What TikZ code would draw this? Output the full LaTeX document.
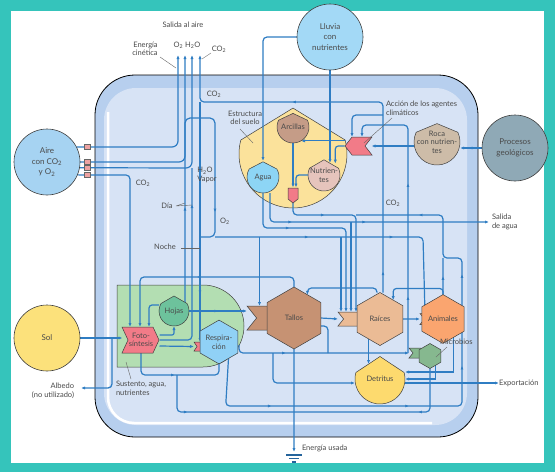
\documentclass[tikz,border=0pt]{standalone}
\usepackage{fontspec}
\setmainfont{Lato}
\usetikzlibrary{shapes.geometric,arrows.meta,decorations.markings}
\pgfdeclarelayer{fondo}
\pgfdeclarelayer{lineas}
\pgfsetlayers{fondo,lineas,main}

\definecolor{cMarco}{HTML}{35C4BB}
\definecolor{cBanda}{HTML}{B7CFEE}
\definecolor{cInterior}{HTML}{D7E3F5}
\definecolor{cFlujo}{HTML}{2F7DC3}
\definecolor{cVerde}{HTML}{B3DEB2}
\definecolor{cTierra}{HTML}{FBE29B}
\definecolor{cAire}{HTML}{A6D3F2}
\definecolor{cLluvia}{HTML}{A3D9F6}
\definecolor{cProc}{HTML}{8FA9B6}
\definecolor{cSol}{HTML}{FCE17B}
\definecolor{cArcilla}{HTML}{C59C87}
\definecolor{cAgua}{HTML}{8DD5F5}
\definecolor{cNutri}{HTML}{E6C4BC}
\definecolor{cRojo}{HTML}{F27B88}
\definecolor{cRoca}{HTML}{CDBCA8}
\definecolor{cHoja}{HTML}{6DC29C}
\definecolor{cResp}{HTML}{90D1F6}
\definecolor{cTallo}{HTML}{C69273}
\definecolor{cRaiz}{HTML}{EBBB95}
\definecolor{cAnimal}{HTML}{FAA56F}
\definecolor{cMicro}{HTML}{86B88F}
\definecolor{cDetrito}{HTML}{FDDA6E}
\definecolor{cRosa}{HTML}{EDA3A3}
\definecolor{cTexto}{HTML}{4A4A4A}

\newcommand{\bajo}[1]{\textsubscript{#1}}
% nombre, x, y, radio, angulo, pico, color, texto
\newcommand{\casa}[8]{%
  \draw[forma, fill=#7] (#2,#3) ++(-#5:#4) arc[start angle=-#5, end angle=180+#5, radius=#4] -- (#2,#3-#6*#4) -- cycle;
  \node[txt, circle, minimum size=#4*2pt] (#1) at (#2,#3) {#8};
}
% nombre, x, y, ancho, alto, color
\newcommand{\muesca}[6]{%
  \draw[forma, fill=#6] (#2,#3-#5/2) -- (#2+#4,#3-#5/2) -- (#2+#4,#3+#5/2) -- (#2,#3+#5/2) -- (#2+0.4*#5,#3) -- cycle;
  \node[caja, minimum width=#4pt, minimum height=#5pt] (#1) at (#2+#4/2,#3) {};
}

\tikzset{
  txt/.style={font=\fontsize{7.5}{8.6}\selectfont, text=cTexto, align=center, inner sep=0pt, outer sep=0pt},
  circ/.style={circle, draw=black!75, line width=0.6pt, minimum size=66pt, inner sep=0pt, outer sep=0pt,
    font=\fontsize{8}{10.5}\selectfont, text=cTexto, align=center},
  forma/.style={draw=black!75, line width=0.5pt},
  caja/.style={inner sep=0pt, outer sep=0pt},
  hexa/.style={regular polygon, regular polygon sides=6, shape border rotate=30, forma, txt},
  flujo/.style={cFlujo, line width=1.2pt},
  guia/.style={draw=black!60, line width=0.4pt},
  midarr/.style={postaction={decorate, decoration={markings,
    mark=at position #1 with {\arrow{Latex[length=3.5pt,width=3pt]}}}}},
}

\begin{document}
\begin{tikzpicture}[x=1pt, y=-1pt, >={Latex[length=4pt,width=3.2pt]}]
\useasboundingbox (0,0) rectangle (555,472);

% fondo
\begin{pgfonlayer}{fondo}
  \fill[cMarco] (0,0) rectangle (555,472);
  \fill[white] (11,11) rectangle (544,463);
  \draw[line width=0.8pt, fill=cBanda, rounded corners=40pt] (95,75) rectangle (478,437);
  \fill[cInterior, rounded corners=32pt] (104,88) rectangle (467,425);
  \draw[white, line width=2.5pt, rounded corners=26pt] (108,112) -- (108,423) -- (432,423);
  \draw[forma, fill=cVerde] (117,285) -- (203,285) arc[start angle=-90, end angle=90, radius=41] -- (117,367) -- cycle;
  \casa{suelo}{293}{154}{54}{15}{0.85}{cTierra}{}
\end{pgfonlayer}

% depositos
\casa{arcillas}{293}{127}{16}{25}{0.85}{cArcilla}{Arcillas}
\casa{agua}{263}{177}{16}{30}{0.95}{cAgua}{Agua}
\casa{nutri}{324}{175}{16}{25}{0.95}{cNutri}{Nutrien-\\tes}
\casa{roca}{437}{142}{23}{25}{0.8}{cRoca}{Roca\\con nutrien-\\tes}
\casa{hojas}{174}{311}{15}{30}{1}{cHoja}{Hojas}
\casa{detritus}{380}{379}{25}{15}{0.9}{cDetrito}{Detritus}

% consumidores
\muesca{tgate}{247}{318}{25}{24}{cTallo}
\node[hexa, fill=cTallo, minimum size=62pt] (tallos) at (294,318) {Tallos};
\muesca{rgate}{338}{319}{22}{14}{cRaiz}
\node[hexa, fill=cRaiz, minimum size=53pt] (raices) at (380,319) {Raíces};
\muesca{agate}{420}{319}{10}{11}{cAnimal}
\node[hexa, fill=cAnimal, minimum size=33pt] (animales) at (443,319) {Animales};
\muesca{mgate}{409}{353}{12}{10}{cMicro}
\node[hexa, fill=cMicro, minimum size=25pt] (microbios) at (430,356) {};
\draw[forma, fill=cRojo] (194,342) -- (206,342) -- (206,351) -- (194,351) -- (197,346.5) -- cycle;
\node[caja, minimum width=12pt, minimum height=9pt] (respin) at (200,346.5) {};
\node[hexa, fill=cResp, minimum size=31pt] (resp) at (219,342) {Respira-\\ción};

% compuertas
\draw[forma, fill=cRojo] (122,327) -- (153,327) -- (159,340) -- (153,353) -- (122,353) -- (128,340) -- cycle;
\node[txt, minimum width=37pt, minimum height=26pt] (foto) at (141,340) {Foto-\\síntesis};
\draw[forma, fill=cRojo] (352,137) -- (372,137) -- (365,146) -- (372,155) -- (352,155) -- (345,146) -- cycle;
\node[caja, minimum width=27pt, minimum height=18pt] (accion) at (358,146) {};
\draw[forma, fill=cRojo] (288,188) -- (298,188) -- (298,199) -- (293,203) -- (288,199) -- cycle;
\node[caja, minimum width=10pt, minimum height=15pt] (bomba) at (293,195) {};

% fuentes
\node[circ, fill=cAire] (aire) at (47,162) {Aire\\con CO\bajo{2}\\y O\bajo{2}};
\node[circ, fill=cLluvia] (lluvia) at (330,37) {Lluvia\\con\\nutrientes};
\node[circ, fill=cProc] (procesos) at (515,148) {Procesos\\geológicos};
\node[circ, fill=cSol] (sol) at (47,338) {Sol};

% textos
\node[txt] (salidaaire) at (183,25) {Salida al aire};
\node[txt, align=right] (energia) at (145,49) {Energía\\cinética};
\node[txt] (o2h2o) at (187,45) {O\bajo{2} H\bajo{2}O};
\node[txt] (co2a) at (219,49) {CO\bajo{2}};
\node[txt] (co2b) at (214,94) {CO\bajo{2}};
\node[txt] (estructura) at (245,118) {Estructura\\del suelo};
\node[txt, anchor=west, align=left] (accionlbl) at (386,108) {Acción de los agentes\\climáticos};
\node[txt] (co2c) at (393,203) {CO\bajo{2}};
\node[txt, anchor=west, align=left] (salidaagua) at (492,222) {Salida\\de agua};
\node[txt, align=left] (vapor) at (207,175) {H\bajo{2}O\\Vapor};
\node[txt] (co2d) at (143,183) {CO\bajo{2}};
\node[txt] (dia) at (167,206) {Día};
\node[txt] (o2b) at (225,221) {O\bajo{2}};
\node[txt] (noche) at (165,247) {Noche};
\node[txt, anchor=north west, align=left] (sustento) at (116,381) {Sustento, agua,\\nutrientes};
\node[txt, anchor=north east, align=right] (albedo) at (74,383) {Albedo\\(no utilizado)};
\node[txt, anchor=west] (microlbl) at (440,342) {Microbios};
\node[txt, anchor=west] (exportlbl) at (499,383) {Exportación};
\node[txt, anchor=west] (usada) at (302,448) {Energía usada};
\coordinate (albedoflecha) at (81,388);
\coordinate (sumidero) at (294,452);
\coordinate (co2nodo) at (200,102);
\coordinate (o2nodo) at (215,237);
\coordinate (verdeE) at (239,345);

\draw[guia] (160,57) -- (176,68);
\draw[guia] (211,53) -- (202,59);
\draw[guia] (240,129) -- (253,143);
\draw[guia] (392,118) -- (364,143);
\draw[guia] (176,206) -- (185,203) (176,206) -- (192,205);
\draw[guia] (181,248) -- (200,248);
\draw[guia] (131,379) -- (126,362);
\draw[guia] (447,347) -- (436,357);

\foreach \yy in {147,162,168,175}
  \draw[fill=cRosa, draw=black!60, line width=0.3pt] (84,\yy-2.5) rectangle (90,\yy+2.5);
\draw[cFlujo!80!black, line width=1.2pt] (286,455) -- (302,455) (289,458.5) -- (299,458.5) (292,462) -- (296,462);

% flujos
\begin{pgfonlayer}{lineas}
  \draw[flujo, rounded corners=6pt, ->] (aire.27) -- (178,147) -- (178,55);
  \draw[flujo, rounded corners=6pt, ->] (aire.east) -- (185,162) -- (185,55);
  \draw[flujo, rounded corners=6pt, ->] (aire.-10) -- (192,168) -- (192,55);
  \draw[flujo, rounded corners=4pt, ->] (aire.-23) -- (130,175) -- (130,0 |- foto.north);
  \draw[flujo, rounded corners=4pt, ->, midarr=0.05, midarr=0.67] ([xshift=3pt]raices.north) -- (383,102) -- (co2nodo) -- (200,55);
  \draw[flujo, ->, midarr=0.8] (co2nodo) -- (respin.north);
  \draw[flujo, rounded corners=5pt, midarr=0.28, midarr=0.89] (185,303) -- (185,118) -- (215,118) -- (o2nodo) -- (200,237);
  \draw[flujo, rounded corners=4pt, midarr=0.82] (foto.east) -- (192,340) -- (192,168);
  \draw[flujo, rounded corners=4pt, ->, midarr=0.33, midarr=0.63] (o2nodo) -- (423,237) -- (agate.north);
  \draw[flujo, ->] (tgate.north |- o2nodo) -- (tgate.north);
  \draw[flujo, ->] (341,237) -- (341,312);
  % suelo
  \draw[flujo, rounded corners=4pt, ->, midarr=0.25] (bomba.south) -- (293,215) -- (356,215) -- (356,312);
  \draw[flujo, rounded corners=4pt, ->, midarr=0.3] (agua.south) -- (263,228) -- (346,228) -- (346,312);
  \draw[flujo, rounded corners=4pt, ->, midarr=0.2, midarr=0.5] ([xshift=7pt]agua.south) -- (270,222) -- ([xshift=-3pt]salidaagua.west);
  \draw[flujo, ->] (351,222) -- (351,312);
  \draw[flujo, rounded corners=4pt, ->] (lluvia.west) -| (agua.north);
  \draw[flujo, ->] (lluvia.south) -- (lluvia.south |- 0,163);
  \draw[flujo, ->, midarr=0.6] (procesos.west) -- (procesos.west -| roca.east);
  \draw[flujo, ->] (roca.west |- accion.east) -- (accion.east);
  \draw[flujo, rounded corners=4pt, ->] (383,115) -- (352,115) -- (352,0 |- accion.north);
  \draw[flujo, rounded corners=4pt, ->, midarr=0.2, midarr=0.6] (408,353) -- (408,125) -- (362,125) -- (362,0 |- accion.north);
  \draw[flujo, ->] (accion.west |- arcillas.-60) -- (arcillas.-60);
  \draw[flujo, rounded corners=3pt, ->] (accion.west) -| (nutri.45);
  \draw[flujo, ->] (arcillas.south) -- (bomba.north);
  \draw[flujo, rounded corners=3pt, ->] (nutri.west) -| ([xshift=3pt]bomba.north);
  % plantas
  \draw[flujo, ->, midarr=0.5] (hojas.east) -- (hojas.east -| tgate.west);
  \draw[flujo, rounded corners=4pt, ->, midarr=0.5] (tallos.north) -- (294,277) -- (140,277) -- (140,0 |- foto.north);
  \draw[flujo, ->] (tallos.east) -- (rgate.west);
  \draw[flujo, rounded corners=4pt, ->] ([xshift=-3pt]raices.north) -- (377,288) -| (tallos.60);
  \draw[flujo, line width=1.4pt, ->] (tallos.south) -- (sumidero);
  \draw[flujo, rounded corners=4pt] ([yshift=-8pt]tallos.east) -| (328,353);
  \draw[flujo, rounded corners=4pt, ->, midarr=0.3] (verdeE) -- (239,353) -- (mgate.west);
  \draw[flujo, rounded corners=4pt, ->] (273,353) -- (273,383) -- ([yshift=-4pt]detritus.west);
  \draw[flujo, ->] (raices.-120) -- (raices.-120 |- 0,364);
  \draw[flujo, ->] (raices.east) -- (agate.west);
  \draw[flujo, rounded corners=3pt, ->] (animales.north) -- ++(0,-6) -| (raices.55);
  \draw[flujo, midarr=0.5] (animales.north) -- (443,258);
  \draw[flujo, rounded corners=4pt, midarr=0.16, midarr=0.4, midarr=0.56, midarr=0.72, midarr=0.89]
    (resp.-60) -- (225.7,406) -- (462,406) -- (462,258) -- (443,258) -- (443,215) -- (356,215);
  \draw[flujo, ->] (animales.-60) |- ([yshift=7pt]detritus.east);
  \draw[flujo, ->] (microbios.-60) |- (detritus.east);
  \draw[flujo, rounded corners=4pt, midarr=0.3] (microbios.south) -- (430,412) -- (sumidero |- 0,412);
  \draw[flujo, rounded corners=4pt, midarr=0.5] (foto.south) -- (141,375) -- (219,375) -- (resp.south);
  \draw[flujo, rounded corners=4pt, midarr=0.3] (177,375) -- (177,412) -- (sumidero |- 0,412);
  \draw[flujo, ->] ([yshift=-4pt]detritus.east) -- (exportlbl.west);
  % sol
  \draw[flujo, line width=1.7pt, ->] (sol.east) -- (sol.east -| foto.west);
  \draw[flujo, line width=1.3pt, rounded corners=4pt, ->] (112,338) -- (112,388) -- (albedoflecha);
  \draw[flujo, rounded corners=3pt, ->] ([yshift=6pt]hojas.west) -| (149,0 |- foto.north);
  \draw[flujo, rounded corners=2pt, ->] ([yshift=5pt]foto.east) -| (hojas.south);
  \draw[flujo, ->] ([yshift=-6pt]foto.east) -- (respin.west);
\end{pgfonlayer}
\end{tikzpicture}
\end{document}
